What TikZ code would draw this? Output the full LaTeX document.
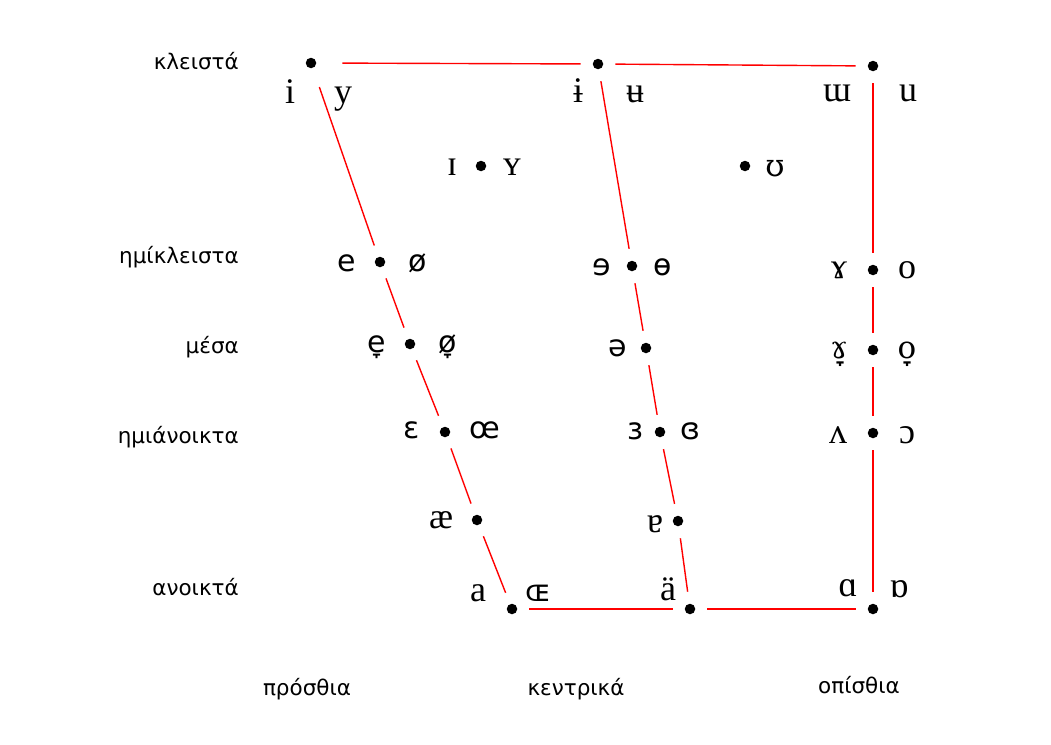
\documentclass[tikz,border=0pt]{standalone}
\usepackage{fontspec}
\setmainfont{Liberation Serif}
\newfontfamily\labfont{DejaVu Sans}
\newfontfamily\ipasfont{DejaVu Sans}
\newfontfamily\iparfont{Liberation Serif}
\newfontfamily\ipadfont{DejaVu Serif}
\begin{document}
\begin{tikzpicture}[x=1pt,y=-1pt,
 dotn/.style={circle,fill=black,inner sep=0pt,minimum size=10.5pt},
 vline/.style={red,line width=1.4pt,shorten >=12pt,shorten <=12pt},
 ipar/.style={font=\fontsize{36}{36}\selectfont\iparfont,inner sep=0pt,anchor=base},
 ipad/.style={font=\fontsize{31}{31}\selectfont\ipadfont,inner sep=0pt,anchor=base},
 ipas/.style={font=\fontsize{30}{30}\selectfont\ipasfont,inner sep=0pt,anchor=base},
 rowlab/.style={font=\fontsize{21.5}{21.5}\selectfont\labfont,inner sep=0pt,anchor=base east},
 collab/.style={font=\fontsize{21.5}{21.5}\selectfont\labfont,inner sep=0pt,anchor=base},
]
\fill[white] (0,0) rectangle (1051,744);
\useasboundingbox (0,0) rectangle (1051,744);

% dots
\node[dotn] (iy) at (311,63) {};
\node[dotn] (iu) at (598,64) {};
\node[dotn] (wu) at (873,66) {};
\node[dotn] (IY) at (481,166) {};
\node[dotn] (U) at (745,166) {};
\node[dotn] (eo) at (380,262) {};
\node[dotn] (eoc) at (632,266) {};
\node[dotn] (go) at (873,270) {};
\node[dotn] (em) at (410,344) {};
\node[dotn] (schwa) at (646,348) {};
\node[dotn] (gm) at (873,350) {};
\node[dotn] (eps) at (445,432) {};
\node[dotn] (rev) at (660,432) {};
\node[dotn] (vo) at (873,433) {};
\node[dotn] (ae) at (477,520) {};
\node[dotn] (tr) at (678,521) {};
\node[dotn] (a) at (512,609) {};
\node[dotn] (ac) at (690,609) {};
\node[dotn] (ab) at (873,609) {};

% lines
\draw[vline,shorten <=26pt] (iy) -- (iu);
\draw[vline] (iu) -- (wu);
\draw[vline,shorten <=20pt] (iy) -- (eo);
\draw[vline] (eo) -- (em);
\draw[vline] (em) -- (eps);
\draw[vline] (eps) -- (ae);
\draw[vline] (ae) -- (a);
\draw[vline] (iu) -- (eoc);
\draw[vline] (eoc) -- (schwa);
\draw[vline] (schwa) -- (rev);
\draw[vline] (rev) -- (tr);
\draw[vline] (tr) -- (ac);
\draw[vline] (wu) -- (go);
\draw[vline] (go) -- (gm);
\draw[vline] (gm) -- (vo);
\draw[vline] (vo) -- (ab);
\draw[vline] (a) -- (ac);
\draw[vline] (ac) -- (ab);

% vowel symbols
\node[ipar] (s-i) at (290,103) {i};
\node[ipar] (s-y) at (343,103) {y};
\node[ipar] (s-ib) at (578,102) {ɨ};
\node[ipar] (s-ub) at (635,102) {ʉ};
\node[ipar] (s-w) at (837,101) {ɯ};
\node[ipar] (s-u) at (908,101) {u};
\node[ipar] (s-I) at (452,175) {ɪ};
\node[ipar] (s-Y) at (512,175) {ʏ};
\node[ipad] (s-U) at (775,176) {ʊ};
\node[ipas] (s-e) at (347,271) {e};
\node[ipas] (s-o) at (418,271) {ø};
\node[ipas] (s-em) at (377,352) {e̞};
\node[ipas] (s-om) at (448,352) {ø̞};
\node[ipas] (s-eps) at (412,438) {ɛ};
\node[ipas] (s-oe) at (485,438) {œ};
\node[ipar] (s-ae) at (441,528) {æ};
\node[ipar] (s-a) at (478,601) {a};
\node[ipas] (s-OE) at (538,601) {ɶ};
\node[ipas] (s-re) at (602,275) {ɘ};
\node[ipas] (s-bo) at (663,275) {ɵ};
\node[ipas] (s-schwa) at (618,356) {ə};
\node[ipas] (s-rev) at (635,439) {ɜ};
\node[ipas] (s-crev) at (690,439) {ɞ};
\node[ipar] (s-tr) at (655,532) {ɐ};
\node[ipar] (s-ac) at (668,600) {ä};
\node[ipar] (s-g) at (839,278) {ɤ};
\node[ipar] (s-oo) at (907,278) {o};
\node[ipad] (s-gm) at (839,358) {ɤ̞};
\node[ipad] (s-oom) at (907,358) {o̞};
\node[ipar] (s-v) at (838,443) {ʌ};
\node[ipar] (s-c) at (907,443) {ɔ};
\node[ipar] (s-ab) at (848,596) {ɑ};
\node[ipar] (s-ob) at (899,597) {ɒ};

% row labels
\node[rowlab] (r1) at (239,69) {κλειστά};
\node[rowlab] (r2) at (239,263) {ημίκλειστα};
\node[rowlab] (r3) at (239,353) {μέσα};
\node[rowlab] (r4) at (239,443) {ημιάνοικτα};
\node[rowlab] (r5) at (239,595) {ανοικτά};

% column labels
\node[collab] (c1) at (307,695) {πρόσθια};
\node[collab] (c2) at (576,695) {κεντρικά};
\node[collab] (c3) at (859,693) {οπίσθια};
\end{tikzpicture}
\end{document}
